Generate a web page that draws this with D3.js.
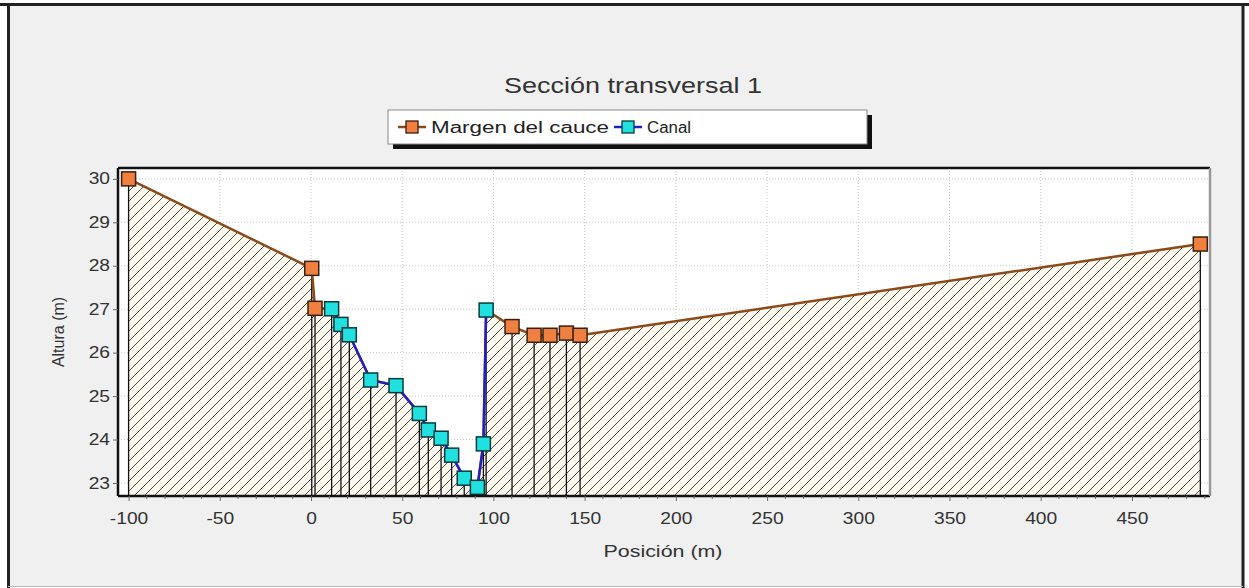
<!DOCTYPE html>
<html><head><meta charset="utf-8">
<script src="https://cdn.jsdelivr.net/npm/d3@7"></script>
<style>body{margin:0;background:#fff;}svg{display:block;font-family:"Liberation Sans",Arial,sans-serif;}</style>
</head><body>
<svg id="c" width="1249" height="588"></svg>
<script>
const title = "Sección transversal 1";
const xLabel = "Posición (m)";
const yLabel = "Altura (m)";
const seriesNames = ["Margen del cauce", "Canal"];
const xTicks = [-100, -50, 0, 50, 100, 150, 200, 250, 300, 350, 400, 450];
const yTicks = [23, 24, 25, 26, 27, 28, 29, 30];
// bank points (orange)
const bankLeftX = [-100, 0.4, 2.2];
const bankLeftY = [30.0, 27.94, 27.02];
const bankRightX = [110.2, 122.3, 131.0, 140.0, 147.5, 487.5];
const bankRightY = [26.6, 26.4, 26.4, 26.45, 26.4, 28.5];
// channel points (cyan)
const canalX = [11.3, 16.4, 21.0, 32.7, 46.6, 59.4, 64.3, 71.3, 77.1, 84.0, 91.2, 94.5, 96.0];
const canalY = [27.01, 26.65, 26.41, 25.37, 25.24, 24.6, 24.22, 24.03, 23.64, 23.11, 22.9, 23.9, 26.98];

const bankLeft = bankLeftX.map((x,i)=>({x, y: bankLeftY[i]}));
const bankRight = bankRightX.map((x,i)=>({x, y: bankRightY[i]}));
const canal = canalX.map((x,i)=>({x, y: canalY[i]}));
const profile = [...bankLeft, ...canal, ...bankRight];

const svg = d3.select("#c");
const STRETCH = 1.3;
function stretch(sel, factor){
  sel.each(function(){
    const n = this; const len = n.getComputedTextLength();
    d3.select(n).attr("textLength", len*factor).attr("lengthAdjust","spacingAndGlyphs");
  });
}
// outer panel
svg.append("rect").attr("x",8).attr("y",4).attr("width",1235).attr("height",583).attr("fill","#f0f0f0");
svg.append("line").attr("x1",0).attr("x2",1249).attr("y1",4.5).attr("y2",4.5).attr("stroke","#222").attr("stroke-width",3);
svg.append("line").attr("x1",8.5).attr("x2",8.5).attr("y1",4).attr("y2",588).attr("stroke","#222").attr("stroke-width",3);
svg.append("line").attr("x1",1243).attr("x2",1243).attr("y1",4).attr("y2",588).attr("stroke","#222").attr("stroke-width",3);
svg.append("line").attr("x1",8).attr("x2",1243).attr("y1",586.5).attr("y2",586.5).attr("stroke","#bbb").attr("stroke-width",1);

const L=118, T=168, R=1210, B=496;
const x = d3.scaleLinear().domain([-105.8, 492.8]).range([L, R]);
const y = d3.scaleLinear().domain([22.7, 30.25]).range([B, T]);

const defs = svg.append("defs");
const pat = defs.append("pattern").attr("id","hatch").attr("patternUnits","userSpaceOnUse")
  .attr("width",10).attr("height",10);
pat.append("rect").attr("width",10).attr("height",10).attr("fill","#fbf9ee");
pat.append("path").attr("d","M-2,2 L2,-2 M0,10 L10,0 M8,12 L12,8").attr("stroke","#4a4a4a").attr("stroke-width",1);
defs.append("clipPath").attr("id","clip").append("rect").attr("x",L).attr("y",T).attr("width",R-L).attr("height",B-T);

// plot background
svg.append("rect").attr("x",L).attr("y",T).attr("width",R-L).attr("height",B-T).attr("fill","#fff");

const g = svg.append("g").attr("clip-path","url(#clip)");
// grid
g.selectAll(".gx").data(xTicks).join("line").attr("x1",d=>x(d)).attr("x2",d=>x(d)).attr("y1",T).attr("y2",B)
  .attr("stroke","#c8c8c8").attr("stroke-dasharray","1,2");
g.selectAll(".gy").data(yTicks).join("line").attr("y1",d=>y(d)).attr("y2",d=>y(d)).attr("x1",L).attr("x2",R)
  .attr("stroke","#c8c8c8").attr("stroke-dasharray","1,2");

// hatched area
const area = d3.area().x(d=>x(d.x)).y0(y(22.7)).y1(d=>y(d.y));
g.append("path").datum(profile).attr("d",area).attr("fill","url(#hatch)");
// drop lines
g.selectAll(".drop").data(profile).join("line").attr("x1",d=>x(d.x)).attr("x2",d=>x(d.x))
  .attr("y1",d=>y(d.y)).attr("y2",B).attr("stroke","#111").attr("stroke-width",1.3);

// lines
const line = d3.line().x(d=>x(d.x)).y(d=>y(d.y));
g.append("path").datum(profile).attr("d",line).attr("fill","none").attr("stroke","#8a4a1a").attr("stroke-width",2.5);
g.append("path").datum(canal).attr("d",line).attr("fill","none").attr("stroke","#2020c8").attr("stroke-width",2.5);

// markers
const ms = 14;
g.selectAll(".mb").data([...bankLeft, ...bankRight]).join("rect")
  .attr("x",d=>x(d.x)-ms/2).attr("y",d=>y(d.y)-ms/2).attr("width",ms).attr("height",ms)
  .attr("fill","#f08040").attr("stroke","#3a2010").attr("stroke-width",1.5);
g.selectAll(".mc").data(canal).join("rect")
  .attr("x",d=>x(d.x)-ms/2).attr("y",d=>y(d.y)-ms/2).attr("width",ms).attr("height",ms)
  .attr("fill","#20e0e0").attr("stroke","#0a3a3a").attr("stroke-width",1.5);

// plot border
svg.append("line").attr("x1",L).attr("x2",R).attr("y1",T).attr("y2",T).attr("stroke","#111").attr("stroke-width",2.5);
svg.append("line").attr("x1",L).attr("x2",L).attr("y1",T).attr("y2",B).attr("stroke","#111").attr("stroke-width",2.5);
svg.append("line").attr("x1",L).attr("x2",R).attr("y1",B).attr("y2",B).attr("stroke","#111").attr("stroke-width",2.5);
svg.append("line").attr("x1",R).attr("x2",R).attr("y1",T).attr("y2",B).attr("stroke","#999").attr("stroke-width",2.5);

// axes
const fmt = d => String(d);
const xAxis = d3.axisBottom(x).tickValues(xTicks).tickFormat(fmt).tickSize(5).tickPadding(12);
const gx = svg.append("g").attr("transform",`translate(0,${B})`).call(xAxis);
gx.select(".domain").remove();
gx.selectAll("text").attr("font-size",16).attr("fill","#333").attr("font-family","Liberation Sans, Arial");
gx.selectAll("line").attr("stroke","#666");
stretch(gx.selectAll("text"), 1.2);
const minor = d3.range(-100, 491, 10).filter(v=>v%50!==0);
svg.append("g").selectAll("line").data(minor).join("line").attr("x1",d=>x(d)).attr("x2",d=>x(d))
  .attr("y1",B).attr("y2",B+3).attr("stroke","#666");

const yAxis = d3.axisLeft(y).tickValues(yTicks).tickFormat(fmt).tickSize(5).tickPadding(3);
const gy = svg.append("g").attr("transform",`translate(${L},0)`).call(yAxis);
gy.select(".domain").remove();
gy.selectAll("text").attr("font-size",16).attr("fill","#333").attr("font-family","Liberation Sans, Arial");
gy.selectAll("line").attr("stroke","#666");
stretch(gy.selectAll("text"), 1.2);

// titles
const tt = svg.append("text").attr("x",633).attr("y",93).attr("text-anchor","middle").attr("font-size",22).attr("fill","#333").text(title);
tt.attr("textLength",258).attr("lengthAdjust","spacingAndGlyphs");
const xl = svg.append("text").attr("x",663).attr("y",557).attr("text-anchor","middle").attr("font-size",16).attr("fill","#333").text(xLabel);
xl.attr("textLength",119).attr("lengthAdjust","spacingAndGlyphs");
svg.append("text").attr("transform","translate(64,332) rotate(-90)").attr("text-anchor","middle").attr("font-size",16).attr("fill","#333").text(yLabel);

// legend
svg.append("rect").attr("x",393).attr("y",115).attr("width",479).attr("height",34).attr("fill","#111");
svg.append("rect").attr("x",388).attr("y",110).attr("width",479).attr("height",34).attr("fill","#fff").attr("stroke","#888");
const legItems = [
  {name: seriesNames[0], x: 398, w: 178, line:"#8a4a1a", fill:"#f08040", stroke:"#3a2010"},
  {name: seriesNames[1], x: 614, w: 44, line:"#2020c8", fill:"#20e0e0", stroke:"#0a3a3a"}
];
legItems.forEach(it=>{
  svg.append("line").attr("x1",it.x).attr("x2",it.x+28).attr("y1",127).attr("y2",127).attr("stroke",it.line).attr("stroke-width",2.5);
  svg.append("rect").attr("x",it.x+8).attr("y",121).attr("width",12).attr("height",12).attr("fill",it.fill).attr("stroke",it.stroke).attr("stroke-width",1.3);
  svg.append("text").attr("x",it.x+33).attr("y",133).attr("font-size",16).attr("fill","#222")
    .attr("textLength",it.w).attr("lengthAdjust","spacingAndGlyphs").text(it.name);
});
</script>
</body></html>
